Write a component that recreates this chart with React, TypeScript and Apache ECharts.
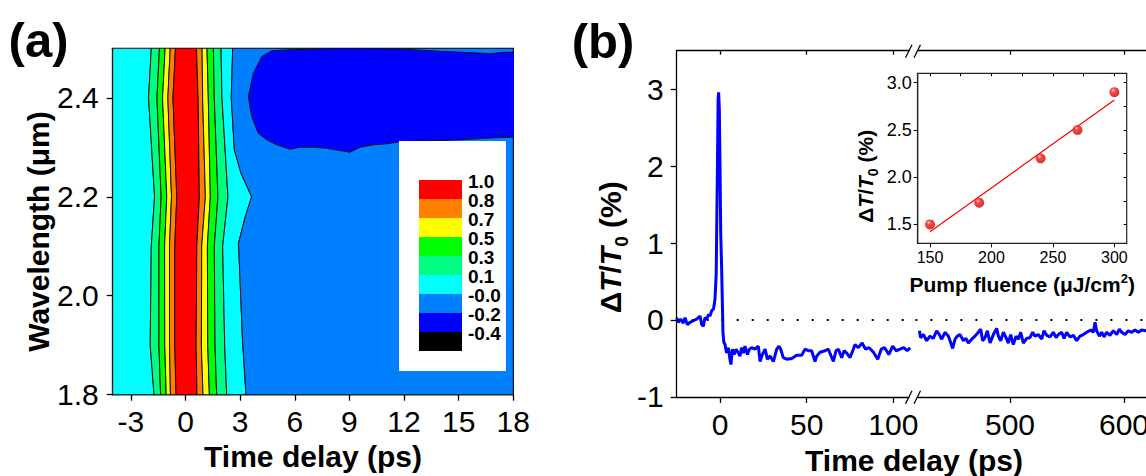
import React, { useEffect, useRef } from 'react';
import * as echarts from 'echarts';

const FONT = '"Liberation Sans", Arial, Helvetica, sans-serif';

// ---------- Panel (a): contour map ----------
const A_X_TICKS = [-3, 0, 3, 6, 9, 12, 15, 18];
const A_Y_TICKS = [1.8, 2.0, 2.2, 2.4];
// wavelength rows (um) at which contour crossings were read
const WL_ROWS = [2.5, 2.4, 2.2, 2.1, 1.9, 1.8];
// time (ps) of each contour crossing, left to right, per wavelength row
const C01_L = [-1.88, -2.03, -1.7, -1.88, -1.94, -1.73];
const C03_L = [-1.43, -1.57, -1.34, -1.46, -1.46, -1.37];
const C05_L = [-1.12, -1.26, -1.03, -1.15, -1.14, -1.06];
const C07_L = [-0.84, -0.97, -0.77, -0.88, -0.88, -0.83];
const C08_L = [-0.55, -0.69, -0.48, -0.59, -0.59, -0.52];
const C08_R = [0.6, 0.69, 0.76, 0.62, 0.58, 0.63];
const C07_R = [0.91, 0.94, 1.09, 0.89, 0.87, 0.96];
const C05_R = [1.18, 1.25, 1.36, 1.2, 1.22, 1.31];
const C03_R = [1.53, 1.58, 1.78, 1.58, 1.62, 1.71];
const C01_R = [1.95, 2.0, 2.33, 2.04, 2.15, 2.26];
// zero contour
const ZERO_WL = [2.5, 2.4, 2.295, 2.248, 2.2, 2.16, 2.106, 1.91, 1.8];
const ZERO_T = [2.59, 2.51, 2.68, 3.04, 3.63, 3.28, 2.91, 3.13, 3.32];
// -0.2 contour (closed region, upper right)
const BLOB_T = [4.73, 5.74, 7.57, 9.0, 11.6, 13.97, 15.8, 16.72, 17.45, 18.3, 18.3, 17.45, 15.0, 13.5, 11.72, 11.05, 10.31, 9.58, 9.03, 8.3, 7.75, 7.02, 6.29, 5.74, 5.01, 4.46, 4.0, 3.63, 3.45, 3.72, 4.18];
const BLOB_WL = [2.495, 2.497, 2.499, 2.5, 2.499, 2.494, 2.491, 2.489, 2.492, 2.492, 2.321, 2.32, 2.315, 2.313, 2.311, 2.307, 2.305, 2.3, 2.29, 2.2945, 2.298, 2.3, 2.3, 2.296, 2.305, 2.315, 2.328, 2.362, 2.402, 2.449, 2.483];
const BAND_COLORS = ['#00ffff', '#00ff80', '#00ff00', '#ffff00', '#ff8000', '#ff0000', '#ff8000', '#ffff00', '#00ff00', '#00ff80', '#00ffff', '#0080ff'];
const BLOB_COLOR = '#0000ff';
const LEGEND_COLORS = ['#ff0000', '#ff8000', '#ffff00', '#00ff00', '#00ff80', '#00ffff', '#0080ff', '#0000ff', '#000000'];
const LEGEND_LABELS = ['1.0', '0.8', '0.7', '0.5', '0.3', '0.1', '-0.0', '-0.2', '-0.4'];

// ---------- Panel (b): transient ----------
const B_Y_TICKS = [-1, 0, 1, 2, 3];
const B_X_TICKS_EARLY = [0, 50, 100];
const B_X_TICKS_LATE = [500, 600];
const EARLY_T = [-25, -24.0, -22.7, -21.2, -20.2, -18.9, -17.3, -15.4, -13.5, -11.5, -10.6, -9.6, -8.7, -7.7, -6.7, -5.8, -4.8, -3.8, -2.9, -2.2, -1.5, -1.1, -0.8, -0.4, 0, 0.4, 0.9, 1.3, 1.7, 2.2, 2.9, 3.8, 4.8, 5.8, 6.3, 7.1, 8.1, 9.2, 10.6, 11.5, 12.5, 13.5, 14.4, 15.8, 16.9, 18.3, 20.2, 22.1, 23.1, 24.4, 26.0, 27.3, 28.9, 30.8, 32.7, 34.0, 35.0, 36.5, 38.5, 41.4, 44.2, 47.1, 49.0, 51.0, 52.9, 54.8, 55.8, 57.7, 60.6, 62.5, 65.4, 66.9, 68.3, 70.2, 71.6, 73.1, 75.0, 76.9, 77.9, 79.8, 82, 84, 86, 88.5, 91, 93, 95, 97.4, 99.6, 101.7, 103.9, 106, 108, 109.7];
const EARLY_V = [0.03, -0.03, 0.01, -0.04, 0.03, -0.06, -0.03, -0.01, 0.01, 0.05, -0.06, -0.08, 0.03, 0.01, 0.07, 0.05, 0.12, 0.14, 0.27, 0.61, 2.0, 2.87, 2.96, 2.74, 2.0, 1.13, 0.7, 0.27, -0.16, -0.29, -0.32, -0.43, -0.36, -0.52, -0.58, -0.38, -0.45, -0.38, -0.43, -0.47, -0.36, -0.43, -0.34, -0.45, -0.38, -0.36, -0.38, -0.34, -0.54, -0.45, -0.38, -0.51, -0.47, -0.54, -0.38, -0.34, -0.38, -0.49, -0.51, -0.5, -0.46, -0.46, -0.38, -0.4, -0.4, -0.54, -0.47, -0.42, -0.4, -0.38, -0.54, -0.4, -0.38, -0.49, -0.4, -0.43, -0.49, -0.38, -0.32, -0.36, -0.3, -0.38, -0.36, -0.42, -0.51, -0.38, -0.36, -0.45, -0.34, -0.4, -0.38, -0.36, -0.4, -0.36];
const LATE_T = [420.5, 421.6, 424, 426.9, 429.8, 432.7, 435.7, 438, 440.1, 443, 445.9, 447.4, 449.7, 451.8, 453.8, 456.1, 459.1, 461.4, 463.4, 466.4, 469.3, 472.2, 474.3, 476, 478.1, 480.1, 482.5, 485.4, 488.3, 489.8, 491.8, 494.2, 496.5, 498.5, 500.6, 502.9, 505.3, 507.3, 509.4, 511.7, 514.6, 517.5, 519.9, 521.9, 524.9, 527.8, 529.8, 532.2, 535.1, 538, 540.4, 542.4, 545.3, 547.4, 549.7, 552.6, 555.6, 558.5, 561.4, 564.3, 567.3, 570.8, 573.1, 574.6, 576, 578.4, 580.4, 582.5, 584.8, 587.7, 590.6, 593.6, 595.9, 598, 600.9, 603.8, 606.7, 609.6, 612.6, 615.5, 619.3, 624, 630, 636];
const LATE_V = [-0.14, -0.23, -0.19, -0.27, -0.21, -0.24, -0.14, -0.19, -0.25, -0.16, -0.21, -0.27, -0.37, -0.25, -0.21, -0.19, -0.27, -0.24, -0.3, -0.25, -0.21, -0.16, -0.12, -0.27, -0.23, -0.14, -0.3, -0.19, -0.11, -0.21, -0.27, -0.16, -0.23, -0.3, -0.19, -0.32, -0.21, -0.25, -0.16, -0.3, -0.24, -0.23, -0.16, -0.21, -0.19, -0.25, -0.14, -0.2, -0.22, -0.16, -0.23, -0.19, -0.16, -0.24, -0.16, -0.22, -0.2, -0.27, -0.21, -0.19, -0.16, -0.13, -0.16, -0.03, -0.14, -0.21, -0.16, -0.22, -0.16, -0.2, -0.14, -0.19, -0.12, -0.16, -0.19, -0.14, -0.16, -0.13, -0.16, -0.13, -0.14, -0.16, -0.13, -0.17];

// ---------- Inset ----------
const FLUENCE = [150, 190, 240, 270, 300];
const DTT = [1.5, 1.73, 2.2, 2.5, 2.9];
const IN_X_TICKS = [150, 200, 250, 300];
const IN_X_MINOR = [150, 175, 200, 225, 250, 275, 300];
const IN_Y_TICKS = [1.5, 2.0, 2.5, 3.0];
const IN_Y_MINOR = [1.5, 1.75, 2.0, 2.25, 2.5, 2.75, 3.0];

// least-squares fit of the inset points
function linearFit(xs: number[], ys: number[]) {
  const n = xs.length;
  const mx = xs.reduce((a, b) => a + b, 0) / n;
  const my = ys.reduce((a, b) => a + b, 0) / n;
  let sxy = 0, sxx = 0;
  for (let i = 0; i < n; i++) { sxy += (xs[i] - mx) * (ys[i] - my); sxx += (xs[i] - mx) ** 2; }
  const k = sxy / sxx;
  return (x: number) => my + k * (x - mx);
}

function buildOption() {
  const toPts = (ts: number[], wl: number[]) => ts.map((t, i) => [t, wl[i]]);
  const boundaries: number[][][] = [
    [[-4, 2.5], [-4, 1.8]],
    ...[C01_L, C03_L, C05_L, C07_L, C08_L, C08_R, C07_R, C05_R, C03_R, C01_R].map((ts) => toPts(ts, WL_ROWS)),
    toPts(ZERO_T, ZERO_WL),
    [[18, 2.5], [18, 1.8]],
  ];
  const fit = linearFit(FLUENCE, DTT);

  const black = '#000';
  const axisLine = { show: true, onZero: false, lineStyle: { color: black, width: 1.3 } };
  const ticks = (vals: number[], len: number, inside = false, w = 1.3) => ({ show: true, inside, length: len, customValues: vals, lineStyle: { color: black, width: w } });
  const labels = (vals: number[], size: number, margin: number, fmt?: (v: number) => string) => {
    const o: any = { show: true, customValues: vals, fontSize: size, fontFamily: FONT, color: black, margin };
    if (fmt) o.formatter = fmt;
    return o;
  };
  const noLabel = { show: false };
  const titleStyle = (size: number) => ({ fontSize: size, fontWeight: 'bold', fontFamily: FONT, color: black, lineHeight: size });

  const dtRich = (size: number, lh: number, sub: number) => ({
    n: { fontSize: size, fontWeight: 'bold', fontFamily: FONT, color: black, lineHeight: lh },
    i: { fontSize: size, fontWeight: 'bold', fontStyle: 'italic', fontFamily: FONT, color: black, lineHeight: lh },
    s: { fontSize: sub, fontWeight: 'bold', fontFamily: FONT, color: black, lineHeight: sub, verticalAlign: 'bottom' },
  });
  const dtName = '{n|Δ}{i|T}{n|/}{i|T}{s|0}{n| (%)}';

  const dotted = {
    silent: true,
    symbol: ['none', 'none'],
    label: { show: false },
    lineStyle: { type: [2, 13], width: 2, color: black },
    data: [{ yAxis: 0 }],
  };

  const textEl = (text: string, x: number, y: number, font: string, align = 'left') => ({
    type: 'text', x, y, z: 100,
    style: { text, font, fill: black, align, verticalAlign: 'middle', textAlign: align, textVerticalAlign: 'middle' },
  });

  const breakMarks = (y: number) => [
    { type: 'rect', z: 100, shape: { x: 909.5, y: y - 3, width: 8, height: 6 }, style: { fill: '#fff' } },
    { type: 'line', z: 101, shape: { x1: 905.5, y1: y + 7, x2: 912, y2: y - 6 }, style: { stroke: black, lineWidth: 1.2 } },
    { type: 'line', z: 101, shape: { x1: 914, y1: y + 7, x2: 920.5, y2: y - 6 }, style: { stroke: black, lineWidth: 1.2 } },
  ];

  const graphic: any[] = [
    textEl('(a)', 38.5, 40, `bold 49px ${FONT}`, 'center'),
    textEl('(b)', 603, 41, `bold 49px ${FONT}`, 'center'),
    { type: 'rect', z: 100, shape: { x: 399, y: 141, width: 107, height: 230 }, style: { fill: '#fff' } },
    ...LEGEND_COLORS.map((c, i) => ({ type: 'rect', z: 101, shape: { x: 419, y: 180 + i * 19, width: 43, height: 19 }, style: { fill: c } })),
    ...LEGEND_LABELS.map((l, i) => textEl(l, 468, 181.5 + i * 19, `bold 19px ${FONT}`)),
    textEl('Time delay (ps)', 914, 460, `bold 30px ${FONT}`, 'center'),
    ...breakMarks(50.7),
    ...breakMarks(396.7),
  ];

  return {
    animation: false,
    backgroundColor: '#fff',
    textStyle: { fontFamily: FONT },
    graphic,
    grid: [
      { left: 112.7, top: 48.3, width: 400.6, height: 346.4, show: true, borderColor: black, borderWidth: 1.3, outerBoundsMode: 'none', containLabel: false },
      { left: 676.7, top: 50.7, width: 235.7, height: 346.2, outerBoundsMode: 'none', containLabel: false },
      { left: 915.4, top: 50.7, width: 322.6, height: 346.2, outerBoundsMode: 'none', containLabel: false },
      { left: 917.7, top: 73.3, width: 209, height: 170, show: true, borderColor: '#222', borderWidth: 1.2, backgroundColor: '#fff', outerBoundsMode: 'none', containLabel: false },
    ],
    xAxis: [
      {
        type: 'value', gridIndex: 0, min: -4, max: 18, axisLine, splitLine: { show: false },
        axisTick: ticks(A_X_TICKS, 6), axisLabel: labels(A_X_TICKS, 30, 12),
        name: 'Time delay (ps)', nameLocation: 'middle', nameGap: 42, nameTextStyle: titleStyle(30),
      },
      { type: 'value', gridIndex: 1, min: -25, max: 111, axisLine, splitLine: { show: false }, axisTick: ticks(B_X_TICKS_EARLY, 6), axisLabel: labels(B_X_TICKS_EARLY, 30, 13) },
      { type: 'value', gridIndex: 1, position: 'top', min: -25, max: 111, axisLine, splitLine: { show: false }, axisTick: ticks(B_X_TICKS_EARLY, 4, true), axisLabel: noLabel },
      { type: 'value', gridIndex: 2, min: 417, max: 700, axisLine, splitLine: { show: false }, axisTick: ticks(B_X_TICKS_LATE, 6), axisLabel: labels(B_X_TICKS_LATE, 30, 13) },
      { type: 'value', gridIndex: 2, position: 'top', min: 417, max: 700, axisLine, splitLine: { show: false }, axisTick: ticks(B_X_TICKS_LATE, 4, true), axisLabel: noLabel },
      {
        type: 'value', gridIndex: 3, min: 140, max: 310, axisLine: { ...axisLine, lineStyle: { color: '#222', width: 1.2 } }, splitLine: { show: false },
        axisTick: ticks(IN_X_TICKS, 4, false, 1), axisLabel: labels(IN_X_TICKS, 16, 6),
        name: '{n|Pump fluence (μJ/cm}{p|2}{n|)}', nameLocation: 'middle', nameGap: 28.5,
        nameTextStyle: {
          rich: {
            n: { fontSize: 21, fontWeight: 'bold', fontFamily: FONT, color: black, lineHeight: 26 },
            p: { fontSize: 13, fontWeight: 'bold', fontFamily: FONT, color: black, lineHeight: 13, verticalAlign: 'top' },
          },
        },
      },
      { type: 'value', gridIndex: 3, position: 'top', min: 140, max: 310, axisLine: { show: false }, splitLine: { show: false }, axisTick: ticks(IN_X_MINOR, 3, true, 1), axisLabel: noLabel },
    ],
    yAxis: [
      {
        type: 'value', gridIndex: 0, min: 1.8, max: 2.5, axisLine, splitLine: { show: false },
        axisTick: ticks(A_Y_TICKS, 6), axisLabel: labels(A_Y_TICKS, 30, 14, (v: number) => v.toFixed(1)),
        name: 'Wavelength (μm)', nameLocation: 'middle', nameGap: 59,
        nameTextStyle: { ...titleStyle(30), padding: [0, 20, 0, 0] },
      },
      {
        type: 'value', gridIndex: 1, min: -1, max: 3.5, axisLine, splitLine: { show: false },
        axisTick: ticks(B_Y_TICKS, 6), axisLabel: labels(B_Y_TICKS, 30, 13),
        name: dtName, nameLocation: 'middle', nameGap: 46,
        nameTextStyle: { rich: dtRich(30, 40, 19), padding: [0, 47, 0, 0] },
      },
      { type: 'value', gridIndex: 2, min: -1, max: 3.5, show: false },
      {
        type: 'value', gridIndex: 3, min: 1.3, max: 3.1, axisLine: { ...axisLine, lineStyle: { color: '#222', width: 1.2 } }, splitLine: { show: false },
        axisTick: ticks(IN_Y_TICKS, 4, false, 1), axisLabel: labels(IN_Y_TICKS, 18, 6, (v: number) => v.toFixed(1)),
        name: dtName, nameLocation: 'middle', nameGap: 38,
        nameTextStyle: { rich: dtRich(21, 28, 14), padding: [0, 36, 0, 0] },
      },
      { type: 'value', gridIndex: 3, position: 'right', min: 1.3, max: 3.1, axisLine: { show: false }, splitLine: { show: false }, axisTick: ticks(IN_Y_MINOR, 3, true, 1), axisLabel: noLabel },
    ],
    series: [
      {
        type: 'custom', xAxisIndex: 0, yAxisIndex: 0, clip: true, silent: true,
        data: [...BAND_COLORS.map((_, i) => [i, 0]), [BAND_COLORS.length, 0]],
        renderItem: (params: any, api: any) => {
          const idx = params.dataIndex;
          let pts: number[][];
          let fill: string;
          if (idx < BAND_COLORS.length) {
            const a = boundaries[idx];
            const b = boundaries[idx + 1].slice().reverse();
            pts = [...a, ...b].map((p) => api.coord(p));
            fill = BAND_COLORS[idx];
          } else {
            pts = BLOB_T.map((t, i) => api.coord([t, BLOB_WL[i]]));
            fill = BLOB_COLOR;
          }
          return { type: 'polygon', shape: { points: pts }, style: { fill, stroke: '#111', lineWidth: 1 } };
        },
      },
      {
        type: 'line', xAxisIndex: 1, yAxisIndex: 1, showSymbol: false, symbol: 'none', silent: true,
        data: EARLY_T.map((t, i) => [t, EARLY_V[i]]),
        lineStyle: { color: '#0000ff', width: 3 }, markLine: dotted, z: 3,
      },
      {
        type: 'line', xAxisIndex: 3, yAxisIndex: 2, showSymbol: false, symbol: 'none', silent: true,
        data: LATE_T.map((t, i) => [t, LATE_V[i]]),
        lineStyle: { color: '#0000ff', width: 3 }, markLine: dotted, z: 3,
      },
      {
        type: 'line', xAxisIndex: 5, yAxisIndex: 3, showSymbol: false, symbol: 'none', silent: true,
        data: [[FLUENCE[0], fit(FLUENCE[0])], [FLUENCE[FLUENCE.length - 1], fit(FLUENCE[FLUENCE.length - 1])]],
        lineStyle: { color: '#ff0000', width: 1.2 }, z: 4,
      },
      {
        type: 'scatter', xAxisIndex: 5, yAxisIndex: 3, symbolSize: 10, silent: true, z: 5,
        data: FLUENCE.map((f, i) => [f, DTT[i]]),
        itemStyle: {
          color: {
            type: 'radial', x: 0.38, y: 0.32, r: 0.7,
            colorStops: [{ offset: 0, color: '#ffd0d0' }, { offset: 0.3, color: '#ff1a1a' }, { offset: 1, color: '#c00000' }],
          },
        },
      },
    ],
  };
}

export default function App() {
  const ref = useRef<HTMLDivElement>(null);
  useEffect(() => {
    if (!ref.current) return;
    const chart = echarts.init(ref.current, null, { renderer: 'svg' });
    chart.setOption(buildOption() as any);
    return () => chart.dispose();
  }, []);
  return (
    <div
      ref={ref}
      style={{ position: 'fixed', left: 0, top: 0, width: 1146, height: 476, background: '#fff' }}
    />
  );
}
